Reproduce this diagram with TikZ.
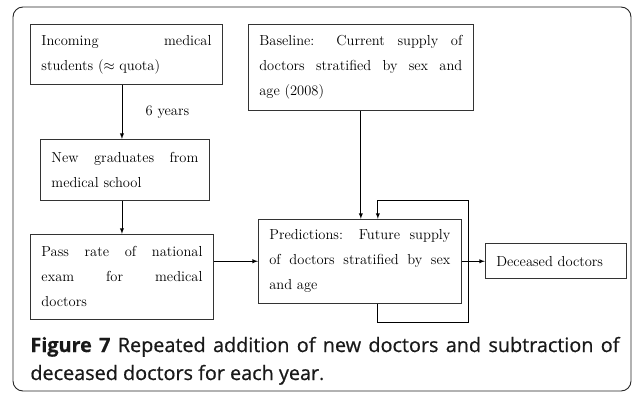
\documentclass[tikz,border=0pt]{standalone}
\usepackage{amsmath, amssymb}
\usepackage{fontspec}
\newfontfamily\capfont[FakeBold=0.7]{Open Sans}
\usetikzlibrary{positioning, arrows, calc}
\tikzset{
  flow/.style={
	>=latex, % filled triangle heads
	x=1pt, y=-1pt, % one unit per pixel, y runs downwards
	line width=0.9pt,
  },
  box/.style={
	draw=black!80, % thin dark frame round each step
	inner xsep=11pt, inner ysep=0pt,
	align=justify, % lines filled out to the box width
	font=\fontsize{14.5}{25}\selectfont,
	execute at begin node={\hyphenpenalty=10000\tolerance=10000},
  }
}
\begin{document}
\begin{tikzpicture}[flow]
	  \useasboundingbox (0,0) rectangle (634,394);
	  \draw[black!85, rounded corners=10pt] (13,7) rectangle (631,391);

	  \node[box, anchor=north west, text width=170pt, minimum height=60pt] (inc) at (30,24)
		{Incoming medical\linebreak students ($\approx$ quota)};
	  \node[box, right=25pt of inc.north east, anchor=north west, text width=203pt, minimum height=86pt] (base)
		{Baseline: Current supply of\linebreak doctors stratified by sex and\linebreak age (2008)};
	  \node[box, below=54pt of inc.south west, anchor=north west, xshift=10pt, text width=147pt, minimum height=61pt] (grad)
		{New graduates from\linebreak medical school};
	  \node[box, below=33pt of grad.south west, anchor=north west, xshift=-10pt, text width=161pt, minimum height=85pt] (pass)
		{Pass rate of national\linebreak exam for medical\linebreak doctors};
	  \node[box, right=44pt of pass.north east, anchor=north west, yshift=15pt, text width=181pt, minimum height=84pt] (pred)
		{Predictions: Future supply\linebreak of doctors stratified by sex\linebreak and age};
	  \node[box, right=23pt of pred, text width=119pt, minimum height=35pt] (dec)
		{Deceased doctors};

	  \draw[->] (inc.south -| pass.north) -- node[midway, right, xshift=20pt, font=\fontsize{14.5}{25}\selectfont] {6 years} (grad.north -| pass.north);
	  \draw[->] (grad.south -| pass.north) -- (pass.north);
	  \draw[->] (pass.east |- pred.west) -- (pred.west);
	  \draw[->] (base.south) -- (base.south |- pred.north);
	  \draw[->] ([xshift=18pt]pred.south) -- ++(0,19) -| ++(91,-122) -| ([xshift=18pt]pred.north);
	  \draw[->] (pred.east) -- (dec.west);

	  \node[anchor=base west, inner sep=0pt, text width=589pt, align=justify, text=black!90,
		font=\capfont\fontsize{19.8}{28}\selectfont] (cap) at (30,352)
		{{\bfseries Figure 7} Repeated addition of new doctors and subtraction of\linebreak
		 deceased doctors for each year{\fontspec{Open Sans}.}};
\end{tikzpicture}
\end{document}
